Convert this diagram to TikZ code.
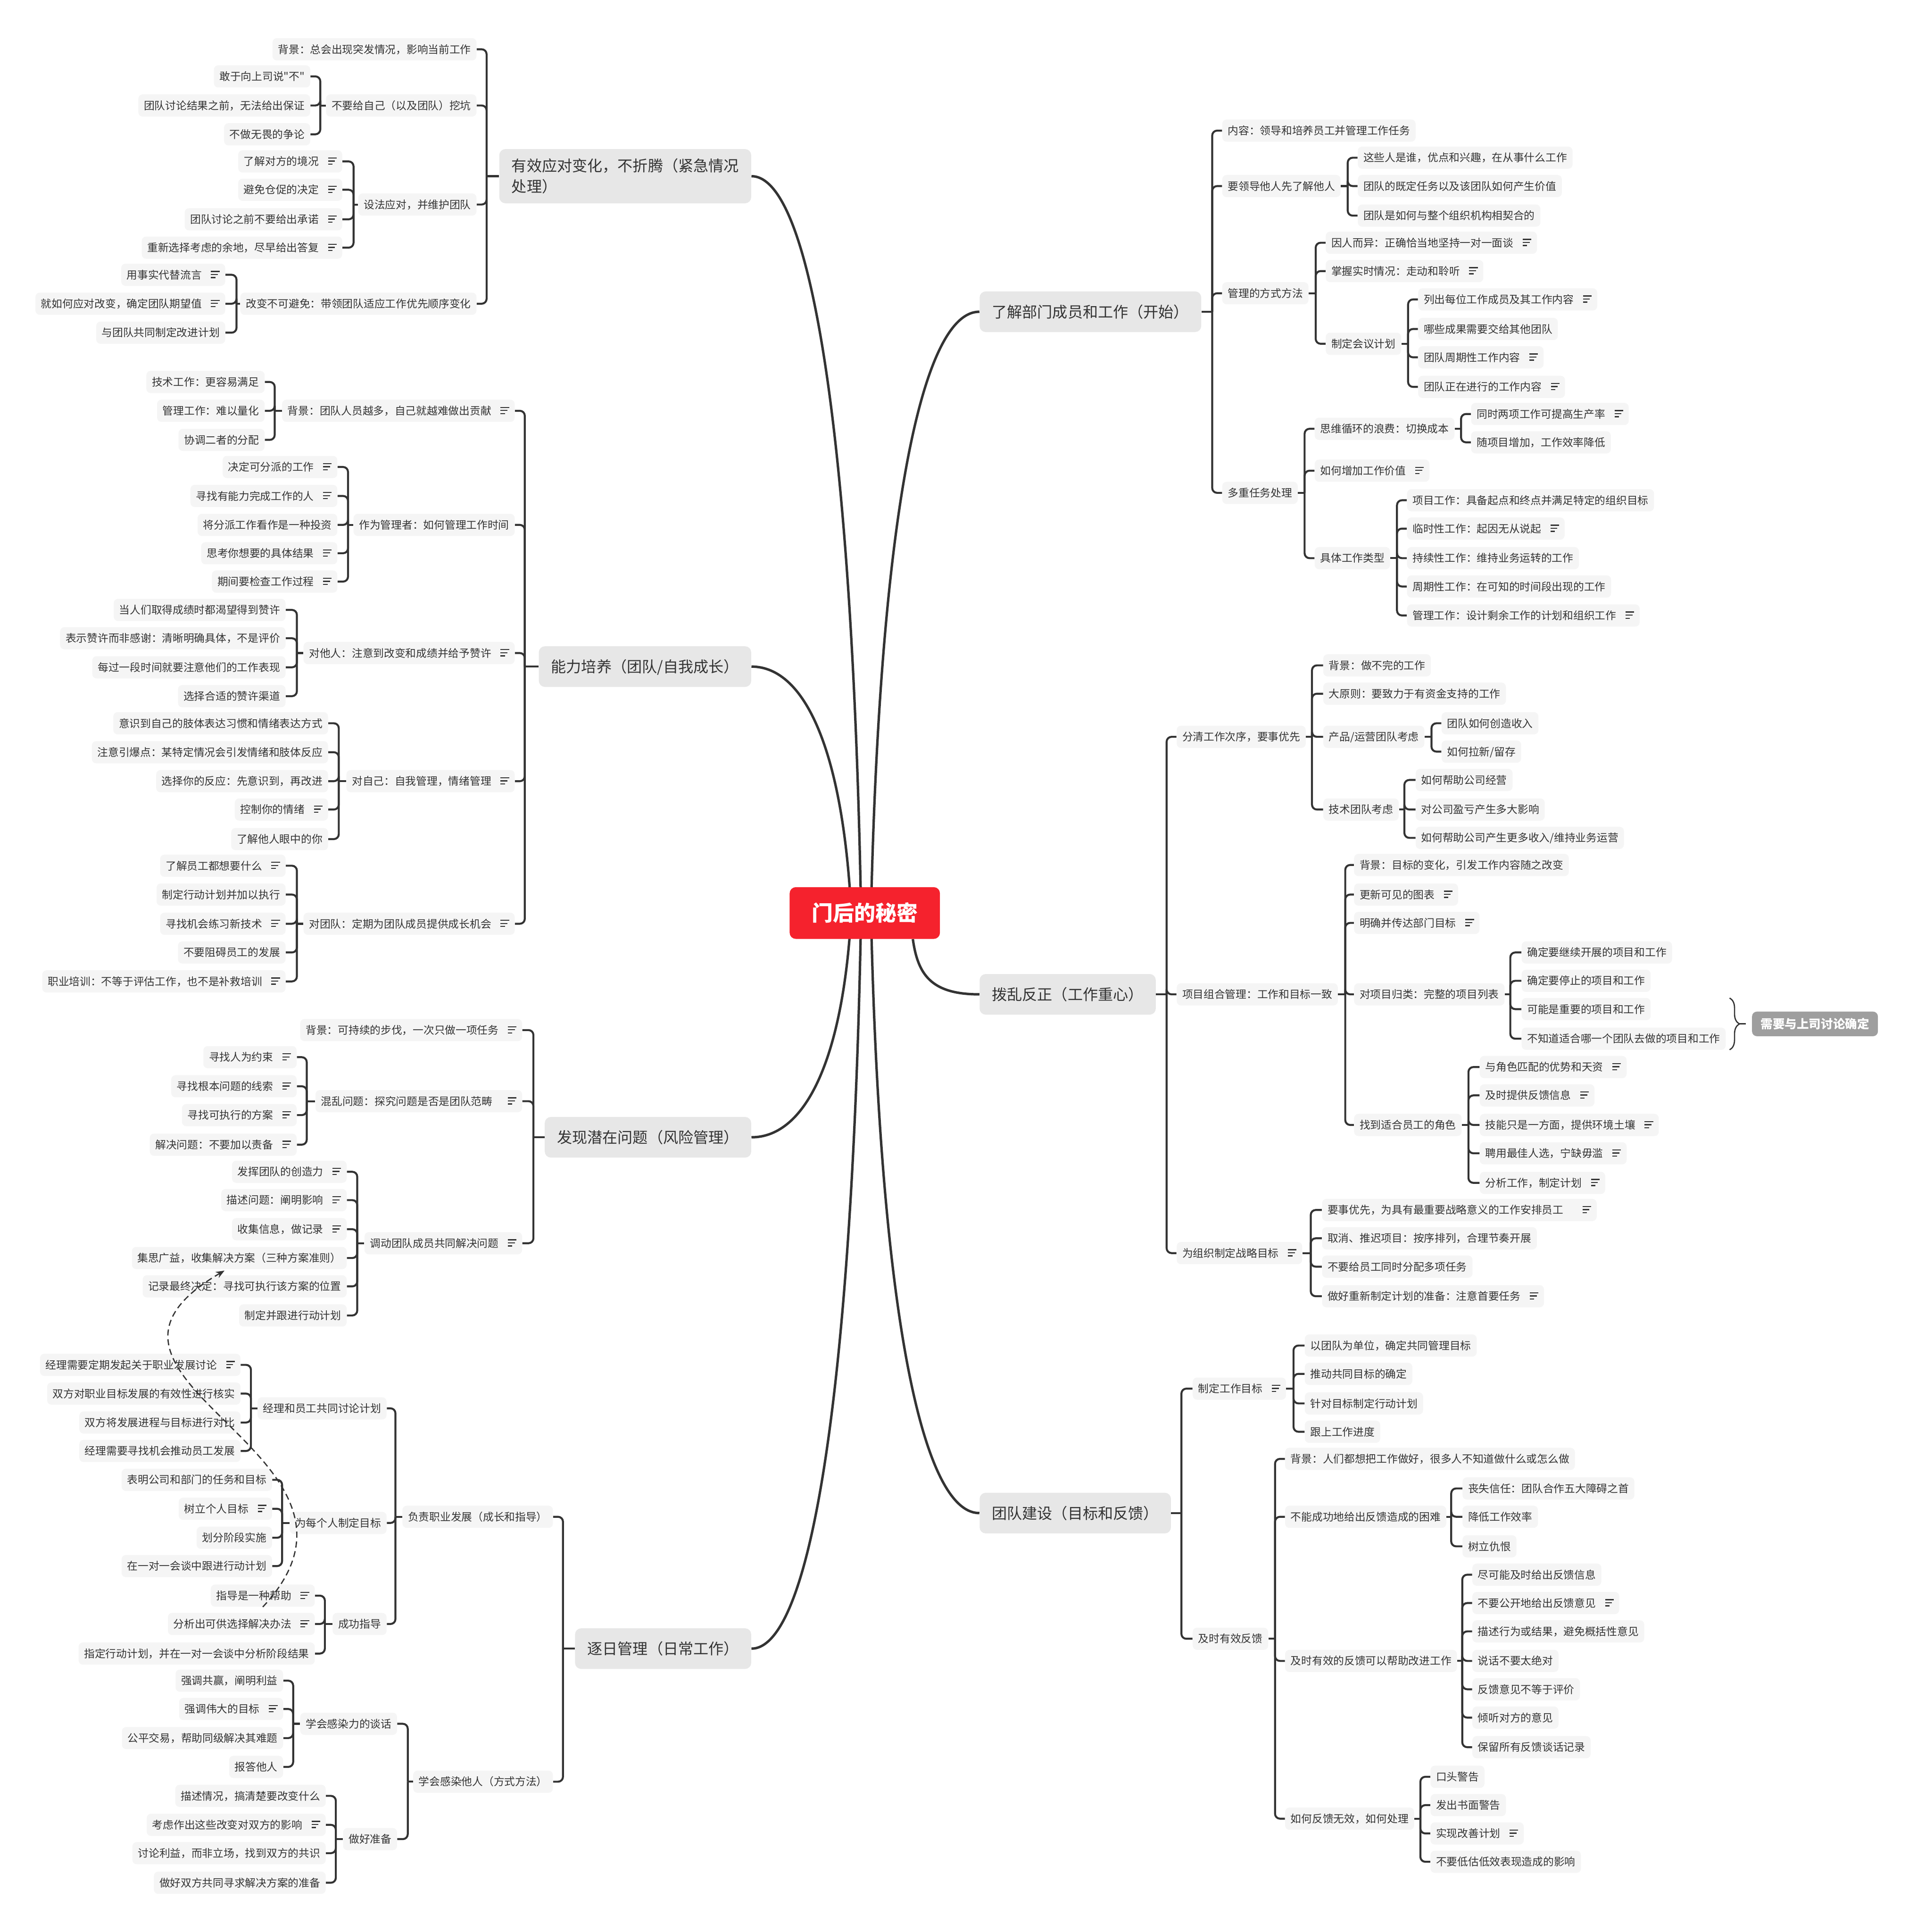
\documentclass[tikz,border=0pt]{standalone}
\usepackage{fontspec}
\newfontfamily\cjk{Noto Sans CJK SC}
\usetikzlibrary{calc,decorations.pathreplacing,arrows.meta}
\definecolor{txt}{HTML}{333333}
\definecolor{ln}{HTML}{333333}
\definecolor{leafbg}{HTML}{F5F5F5}
\definecolor{mainbg}{HTML}{E7E7E7}
\definecolor{rootbg}{HTML}{F5222D}
\definecolor{sumbg}{HTML}{9E9E9E}
\pgfdeclarelayer{bg}
\pgfsetlayers{bg,main}
\newcommand\nt{\hspace{7.5pt}\raisebox{0.6pt}{\vbox{\hrule width 7pt height 0.9pt\vskip 1.6pt\hrule width 5.6pt height 0.9pt\vskip 1.6pt\hrule width 3.6pt height 0.9pt}}}
% right-side bracket connector: parent, spine x, spine y, children
\newcommand\rb[4]{\coordinate (#1-s) at (#2,#3);
  \draw[sub] (#1.east) -- (#1-s);
  \foreach \kid in {#4}{\draw[sub] (#1-s) |- (\kid.west);}}
% left-side bracket connector
\newcommand\lb[4]{\coordinate (#1-s) at (#2,#3);
  \draw[sub] (#1.west) -- (#1-s);
  \foreach \kid in {#4}{\draw[sub] (#1-s) |- (\kid.east);}}
\begin{document}
\begin{tikzpicture}[x=1pt,y=-1pt,
  leaf/.style={fill=leafbg,rounded corners=3.5pt,inner xsep=4.5pt,inner ysep=0pt,minimum height=18pt,text height=7.6pt,text depth=1pt,font=\cjk\fontsize{8.7}{10}\selectfont,text=txt},
  rnode/.style={leaf,anchor=west},
  lnode/.style={leaf,anchor=east},
  mainbase/.style={fill=mainbg,rounded corners=5pt,inner xsep=10pt,inner ysep=0pt,font=\cjk\fontsize{12.3}{17}\selectfont,text=txt},
  mainb/.style={mainbase,minimum height=33pt,text height=10.8pt,text depth=1.4pt},
  sub/.style={draw=ln,line width=1.6pt,rounded corners=4pt},
  trunk/.style={draw=ln,line width=2pt},
  sumnode/.style={fill=sumbg,rounded corners=4pt,inner xsep=7pt,inner ysep=0pt,minimum height=20pt,text height=8.6pt,text depth=1.1pt,text=white,font=\cjk\bfseries\fontsize{9.8}{11}\selectfont}]

\begin{pgfonlayer}{bg}
\fill[white] (0,0) rectangle (1556,1568);
\end{pgfonlayer}
\useasboundingbox (0,0) rectangle (1556,1568);

% ---------- root ----------
\node[fill=rootbg,rounded corners=5pt,minimum width=122pt,minimum height=42pt,inner sep=0pt,text height=15pt,text depth=2pt,text=white,font=\cjk\bfseries\fontsize{17.2}{20}\selectfont] (root) at (702,741) {门后的秘密};

% ---------- main branches ----------
\node[mainb,anchor=west] (R1) at (795,253) {了解部门成员和工作（开始）};
\node[mainb,anchor=west] (R2) at (795,807) {拨乱反正（工作重心）};
\node[mainb,anchor=west] (R3) at (795,1228) {团队建设（目标和反馈）};
\node[mainbase,anchor=east,align=left,minimum height=44pt] (L1) at (610,143) {有效应对变化，不折腾（紧急情况\\处理）};
\node[mainb,anchor=east] (L2) at (610,541) {能力培养（团队/自我成长）};
\node[mainb,anchor=east] (L3) at (610,923) {发现潜在问题（风险管理）};
\node[mainb,anchor=east] (L4) at (610,1338) {逐日管理（日常工作）};

% ---------- R1 ----------
\node[rnode] (r1a) at (992,106) {内容：领导和培养员工并管理工作任务};
\node[rnode] (r1b) at (992,151) {要领导他人先了解他人};
\node[rnode] (r1b1) at (1102,128) {这些人是谁，优点和兴趣，在从事什么工作};
\node[rnode] (r1b2) at (1102,151) {团队的既定任务以及该团队如何产生价值};
\node[rnode] (r1b3) at (1102,175) {团队是如何与整个组织机构相契合的};
\node[rnode] (r1c) at (992,238) {管理的方式方法};
\node[rnode] (r1c1) at (1076,197) {因人而异：正确恰当地坚持一对一面谈\nt};
\node[rnode] (r1c2) at (1076,220) {掌握实时情况：走动和聆听\nt};
\node[rnode] (r1c3) at (1076,279) {制定会议计划};
\node[rnode] (r1c3a) at (1151,243) {列出每位工作成员及其工作内容\nt};
\node[rnode] (r1c3b) at (1151,267) {哪些成果需要交给其他团队};
\node[rnode] (r1c3c) at (1151,290) {团队周期性工作内容\nt};
\node[rnode] (r1c3d) at (1151,314) {团队正在进行的工作内容\nt};
\node[rnode] (r1d) at (992,400) {多重任务处理};
\node[rnode] (r1d1) at (1067,348) {思维循环的浪费：切换成本};
\node[rnode] (r1d1a) at (1194,336) {同时两项工作可提高生产率\nt};
\node[rnode] (r1d1b) at (1194,359) {随项目增加，工作效率降低};
\node[rnode] (r1d2) at (1067,382) {如何增加工作价值\nt};
\node[rnode] (r1d3) at (1067,453) {具体工作类型};
\node[rnode] (r1d3a) at (1142,406) {项目工作：具备起点和终点并满足特定的组织目标};
\node[rnode] (r1d3b) at (1142,429) {临时性工作：起因无从说起\nt};
\node[rnode] (r1d3c) at (1142,453) {持续性工作：维持业务运转的工作};
\node[rnode] (r1d3d) at (1142,476) {周期性工作：在可知的时间段出现的工作};
\node[rnode] (r1d3e) at (1142,499.5) {管理工作：设计剩余工作的计划和组织工作\nt};

% ---------- R2 ----------
\node[rnode] (r2a) at (955,598) {分清工作次序，要事优先};
\node[rnode] (r2a1) at (1074,540) {背景：做不完的工作};
\node[rnode] (r2a2) at (1074,563) {大原则：要致力于有资金支持的工作};
\node[rnode] (r2a3) at (1074,598) {产品/运营团队考虑};
\node[rnode] (r2a3a) at (1170,587) {团队如何创造收入};
\node[rnode] (r2a3b) at (1170,610) {如何拉新/留存};
\node[rnode] (r2a4) at (1074,657) {技术团队考虑};
\node[rnode] (r2a4a) at (1149,633) {如何帮助公司经营};
\node[rnode] (r2a4b) at (1149,657) {对公司盈亏产生多大影响};
\node[rnode] (r2a4c) at (1149,680) {如何帮助公司产生更多收入/维持业务运营};
\node[rnode] (r2b) at (955,807) {项目组合管理：工作和目标一致};
\node[rnode] (r2b1) at (1099,702) {背景：目标的变化，引发工作内容随之改变};
\node[rnode] (r2b2) at (1099,726) {更新可见的图表\nt};
\node[rnode] (r2b3) at (1099,749) {明确并传达部门目标\nt};
\node[rnode] (r2b4) at (1099,807) {对项目归类：完整的项目列表};
\node[rnode] (r2b4a) at (1235,773) {确定要继续开展的项目和工作};
\node[rnode] (r2b4b) at (1235,796) {确定要停止的项目和工作};
\node[rnode] (r2b4c) at (1235,819) {可能是重要的项目和工作};
\node[rnode] (r2b4d) at (1235,843) {不知道适合哪一个团队去做的项目和工作};
\node[rnode] (r2b5) at (1099,913) {找到适合员工的角色};
\node[rnode] (r2b5a) at (1201,866) {与角色匹配的优势和天资\nt};
\node[rnode] (r2b5b) at (1201,889) {及时提供反馈信息\nt};
\node[rnode] (r2b5c) at (1201,913) {技能只是一方面，提供环境土壤\nt};
\node[rnode] (r2b5d) at (1201,936) {聘用最佳人选，宁缺毋滥\nt};
\node[rnode] (r2b5e) at (1201,960) {分析工作，制定计划\nt};
\node[rnode] (r2c) at (955,1017) {为组织制定战略目标\nt};
\node[rnode] (r2c1) at (1073,982) {要事优先，为具有最重要战略意义的工作安排员工\hspace{8pt}\nt};
\node[rnode] (r2c2) at (1073,1005) {取消、推迟项目：按序排列，合理节奏开展};
\node[rnode] (r2c3) at (1073,1028) {不要给员工同时分配多项任务};
\node[rnode] (r2c4) at (1073,1052) {做好重新制定计划的准备：注意首要任务\nt};

\node[sumnode,anchor=west] (sum) at (1422,831) {需要与上司讨论确定};
\coordinate (bt) at (1404,810);
\coordinate (bb) at (1404,852);
\coordinate (btip) at (1412,831);
\draw[ln,line width=1pt,decorate,decoration={brace,amplitude=8pt}] (bt) -- (bb);
\draw[ln,line width=1pt] (btip) -- ($(sum.west)+(-5,0)$);

% ---------- R3 ----------
\node[rnode] (r3a) at (968,1127) {制定工作目标\nt};
\node[rnode] (r3a1) at (1059,1092) {以团队为单位，确定共同管理目标};
\node[rnode] (r3a2) at (1059,1115) {推动共同目标的确定};
\node[rnode] (r3a3) at (1059,1139) {针对目标制定行动计划};
\node[rnode] (r3a4) at (1059,1162) {跟上工作进度};
\node[rnode] (r3b) at (968,1330) {及时有效反馈};
\node[rnode] (r3b1) at (1043,1184) {背景：人们都想把工作做好，很多人不知道做什么或怎么做\hspace{8pt}};
\node[rnode] (r3b2) at (1043,1231) {不能成功地给出反馈造成的困难};
\node[rnode] (r3b2a) at (1187,1208) {丧失信任：团队合作五大障碍之首};
\node[rnode] (r3b2b) at (1187,1231) {降低工作效率};
\node[rnode] (r3b2c) at (1187,1255) {树立仇恨};
\node[rnode] (r3b3) at (1043,1348) {及时有效的反馈可以帮助改进工作};
\node[rnode] (r3b3a) at (1195,1278) {尽可能及时给出反馈信息};
\node[rnode] (r3b3b) at (1195,1301) {不要公开地给出反馈意见\nt};
\node[rnode] (r3b3c) at (1195,1324) {描述行为或结果，避免概括性意见};
\node[rnode] (r3b3d) at (1195,1348) {说话不要太绝对};
\node[rnode] (r3b3e) at (1195,1371) {反馈意见不等于评价};
\node[rnode] (r3b3f) at (1195,1394) {倾听对方的意见};
\node[rnode] (r3b3g) at (1195,1418) {保留所有反馈谈话记录};
\node[rnode] (r3b4) at (1043,1476) {如何反馈无效，如何处理};
\node[rnode] (r3b4a) at (1161,1442) {口头警告};
\node[rnode] (r3b4b) at (1161,1465) {发出书面警告};
\node[rnode] (r3b4c) at (1161,1488) {实现改善计划\nt};
\node[rnode] (r3b4d) at (1161,1511) {不要低估低效表现造成的影响};

% ---------- L1 ----------
\node[lnode] (l1a) at (387,40) {背景：总会出现突发情况，影响当前工作};
\node[lnode] (l1b) at (387,85.6) {不要给自己（以及团队）挖坑};
\node[lnode] (l1b1) at (252,62) {敢于向上司说"不"};
\node[lnode] (l1b2) at (252,85.6) {团队讨论结果之前，无法给出保证};
\node[lnode] (l1b3) at (252,109) {不做无畏的争论};
\node[lnode] (l1c) at (387,166) {设法应对，并维护团队};
\node[lnode] (l1c1) at (278,131) {了解对方的境况\nt};
\node[lnode] (l1c2) at (278,154) {避免仓促的决定\nt};
\node[lnode] (l1c3) at (278,178) {团队讨论之前不要给出承诺\nt};
\node[lnode] (l1c4) at (278,201) {重新选择考虑的余地，尽早给出答复\nt};
\node[lnode] (l1d) at (387,246.5) {改变不可避免：带领团队适应工作优先顺序变化};
\node[lnode] (l1d1) at (183,223) {用事实代替流言\nt};
\node[lnode] (l1d2) at (183,246.5) {就如何应对改变，确定团队期望值\nt};
\node[lnode] (l1d3) at (183,270) {与团队共同制定改进计划};

% ---------- L2 ----------
\node[lnode] (l2a) at (418,333.4) {背景：团队人员越多，自己就越难做出贡献\nt};
\node[lnode] (l2a1) at (215,310) {技术工作：更容易满足};
\node[lnode] (l2a2) at (215,333.4) {管理工作：难以量化};
\node[lnode] (l2a3) at (215,357) {协调二者的分配};
\node[lnode] (l2b) at (418,426) {作为管理者：如何管理工作时间};
\node[lnode] (l2b1) at (274,379) {决定可分派的工作\nt};
\node[lnode] (l2b2) at (274,402.5) {寻找有能力完成工作的人\nt};
\node[lnode] (l2b3) at (274,426) {将分派工作看作是一种投资};
\node[lnode] (l2b4) at (274,449) {思考你想要的具体结果\nt};
\node[lnode] (l2b5) at (274,472) {期间要检查工作过程\nt};
\node[lnode] (l2c) at (418,530) {对他人：注意到改变和成绩并给予赞许\nt};
\node[lnode] (l2c1) at (232,495) {当人们取得成绩时都渴望得到赞许};
\node[lnode] (l2c2) at (232,518) {表示赞许而非感谢：清晰明确具体，不是评价};
\node[lnode] (l2c3) at (232,541.6) {每过一段时间就要注意他们的工作表现};
\node[lnode] (l2c4) at (232,565) {选择合适的赞许渠道};
\node[lnode] (l2d) at (418,634) {对自己：自我管理，情绪管理\nt};
\node[lnode] (l2d1) at (266.5,587) {意识到自己的肢体表达习惯和情绪表达方式};
\node[lnode] (l2d2) at (266.5,610.5) {注意引爆点：某特定情况会引发情绪和肢体反应};
\node[lnode] (l2d3) at (266.5,634) {选择你的反应：先意识到，再改进};
\node[lnode] (l2d4) at (266.5,657) {控制你的情绪\nt};
\node[lnode] (l2d5) at (266.5,681) {了解他人眼中的你};
\node[lnode] (l2e) at (418,749.7) {对团队：定期为团队成员提供成长机会\nt};
\node[lnode] (l2e1) at (232,702.6) {了解员工都想要什么\nt};
\node[lnode] (l2e2) at (232,726) {制定行动计划并加以执行};
\node[lnode] (l2e3) at (232,749.7) {寻找机会练习新技术\nt};
\node[lnode] (l2e4) at (232,773) {不要阻碍员工的发展};
\node[lnode] (l2e5) at (232,796.5) {职业培训：不等于评估工作，也不是补救培训\nt};

% ---------- L3 ----------
\node[lnode] (l3a) at (424,836) {背景：可持续的步伐，一次只做一项任务\nt};
\node[lnode] (l3b) at (424,893.7) {混乱问题：探究问题是否是团队范畴\hspace{5pt}\nt};
\node[lnode] (l3b1) at (241,858) {寻找人为约束\nt};
\node[lnode] (l3b2) at (241,881.6) {寻找根本问题的线索\nt};
\node[lnode] (l3b3) at (241,905) {寻找可执行的方案\nt};
\node[lnode] (l3b4) at (241,929) {解决问题：不要加以责备\nt};
\node[lnode] (l3c) at (424,1009) {调动团队成员共同解决问题\nt};
\node[lnode] (l3c1) at (281.6,951) {发挥团队的创造力\nt};
\node[lnode] (l3c2) at (281.6,974) {描述问题：阐明影响\nt};
\node[lnode] (l3c3) at (281.6,997.6) {收集信息，做记录\nt};
\node[lnode] (l3c4) at (281.6,1021) {集思广益，收集解决方案（三种方案准则）};
\node[lnode] (l3c5) at (281.6,1044) {记录最终决定：寻找可执行该方案的位置};
\node[lnode] (l3c6) at (281.6,1067.6) {制定并跟进行动计划};

% ---------- L4 ----------
\node[lnode] (l4a) at (449,1231) {负责职业发展（成长和指导）};
\node[lnode] (l4a1) at (314,1143) {经理和员工共同讨论计划};
\node[lnode] (l4a1a) at (195.4,1107.7) {经理需要定期发起关于职业发展讨论\nt};
\node[lnode] (l4a1b) at (195.4,1131) {双方对职业目标发展的有效性进行核实};
\node[lnode] (l4a1c) at (195.4,1154.5) {双方将发展进程与目标进行对比};
\node[lnode] (l4a1d) at (195.4,1177.6) {经理需要寻找机会推动员工发展};
\node[lnode] (l4a2) at (314,1236) {为每个人制定目标};
\node[lnode] (l4a2a) at (221,1201) {表明公司和部门的任务和目标};
\node[lnode] (l4a2b) at (221,1224.5) {树立个人目标\nt};
\node[lnode] (l4a2c) at (221,1248) {划分阶段实施};
\node[lnode] (l4a2d) at (221,1271) {在一对一会谈中跟进行动计划};
\node[lnode] (l4a3) at (314,1318) {成功指导};
\node[lnode] (l4a3a) at (255.7,1295) {指导是一种帮助\nt};
\node[lnode] (l4a3b) at (255.7,1318) {分析出可供选择解决办法\nt};
\node[lnode] (l4a3c) at (255.7,1342) {指定行动计划，并在一对一会谈中分析阶段结果};
\node[lnode] (l4b) at (449,1446) {学会感染他人（方式方法）};
\node[lnode] (l4b1) at (322.5,1399) {学会感染力的谈话};
\node[lnode] (l4b1a) at (230,1364) {强调共赢，阐明利益};
\node[lnode] (l4b1b) at (230,1387) {强调伟大的目标\nt};
\node[lnode] (l4b1c) at (230,1410.6) {公平交易，帮助同级解决其难题};
\node[lnode] (l4b1d) at (230,1434) {报答他人};
\node[lnode] (l4b2) at (322.5,1492.6) {做好准备};
\node[lnode] (l4b2a) at (264.6,1457.5) {描述情况，搞清楚要改变什么};
\node[lnode] (l4b2b) at (264.6,1481) {考虑作出这些改变对双方的影响\nt};
\node[lnode] (l4b2c) at (264.6,1504) {讨论利益，而非立场，找到双方的共识};
\node[lnode] (l4b2d) at (264.6,1528) {做好双方共同寻求解决方案的准备};

% ---------- connectors (behind nodes) ----------
\begin{pgfonlayer}{bg}
\draw[trunk] ($(root.center)+(-3,0)$) .. controls +(-7,-389) and +(48,0) .. (L1.east);
\draw[trunk] ($(root.center)+(-11,0)$) .. controls +(-6.5,-130) and +(44,0) .. (L2.east);
\draw[trunk] ($(root.center)+(5,0)$) .. controls +(7,-317) and +(-47.5,0) .. (R1.west);
\draw[trunk] ($(root.center)+(-11,0)$) .. controls +(-6.5,118) and +(44,0) .. (L3.east);
\draw[trunk] ($(root.center)+(-3,0)$) .. controls +(-7,388) and +(48,0) .. (L4.east);
\draw[trunk] ($(root.center)+(5,0)$) .. controls +(7,316.6) and +(-47.5,0) .. (R3.west);
\draw[trunk] ($(root.south)+(39,0)$) .. controls +(4,28) and +(-40,0) .. (R2.west);

\rb{R1}{984}{253}{r1a,r1b,r1c,r1d}
\rb{r1b}{1094}{151}{r1b1,r1b2,r1b3}
\rb{r1c}{1068}{238}{r1c1,r1c2,r1c3}
\rb{r1c3}{1143}{279}{r1c3a,r1c3b,r1c3c,r1c3d}
\rb{r1d}{1059}{400}{r1d1,r1d2,r1d3}
\rb{r1d1}{1186}{348}{r1d1a,r1d1b}
\rb{r1d3}{1134}{453}{r1d3a,r1d3b,r1d3c,r1d3d,r1d3e}

\rb{R2}{947}{807}{r2a,r2b,r2c}
\rb{r2a}{1065}{598}{r2a1,r2a2,r2a3,r2a4}
\rb{r2a3}{1162}{598}{r2a3a,r2a3b}
\rb{r2a4}{1140}{657}{r2a4a,r2a4b,r2a4c}
\rb{r2b}{1092}{807}{r2b1,r2b2,r2b3,r2b4,r2b5}
\rb{r2b4}{1226}{807}{r2b4a,r2b4b,r2b4c,r2b4d}
\rb{r2b5}{1192}{913}{r2b5a,r2b5b,r2b5c,r2b5d,r2b5e}
\rb{r2c}{1064}{1017}{r2c1,r2c2,r2c3,r2c4}

\rb{R3}{959}{1228}{r3a,r3b}
\rb{r3a}{1050}{1127}{r3a1,r3a2,r3a3,r3a4}
\rb{r3b}{1035}{1330}{r3b1,r3b2,r3b3,r3b4}
\rb{r3b2}{1178}{1231}{r3b2a,r3b2b,r3b2c}
\rb{r3b3}{1187}{1348}{r3b3a,r3b3b,r3b3c,r3b3d,r3b3e,r3b3f,r3b3g}
\rb{r3b4}{1153}{1476}{r3b4a,r3b4b,r3b4c,r3b4d}

\lb{L1}{395}{143}{l1a,l1b,l1c,l1d}
\lb{l1b}{260}{85.6}{l1b1,l1b2,l1b3}
\lb{l1c}{287}{166}{l1c1,l1c2,l1c3,l1c4}
\lb{l1d}{192}{246.5}{l1d1,l1d2,l1d3}

\lb{L2}{426}{541}{l2a,l2b,l2c,l2d,l2e}
\lb{l2a}{223}{333.4}{l2a1,l2a2,l2a3}
\lb{l2b}{282.5}{426}{l2b1,l2b2,l2b3,l2b4,l2b5}
\lb{l2c}{241}{530}{l2c1,l2c2,l2c3,l2c4}
\lb{l2d}{275}{634}{l2d1,l2d2,l2d3,l2d4,l2d5}
\lb{l2e}{241}{749.7}{l2e1,l2e2,l2e3,l2e4,l2e5}

\lb{L3}{433}{923}{l3a,l3b,l3c}
\lb{l3b}{249}{893.7}{l3b1,l3b2,l3b3,l3b4}
\lb{l3c}{290}{1009}{l3c1,l3c2,l3c3,l3c4,l3c5,l3c6}

\lb{L4}{457}{1338}{l4a,l4b}
\lb{l4a}{321}{1231}{l4a1,l4a2,l4a3}
\lb{l4a1}{203.7}{1143}{l4a1a,l4a1b,l4a1c,l4a1d}
\lb{l4a2}{229}{1236}{l4a2a,l4a2b,l4a2c,l4a2d}
\lb{l4a3}{263.7}{1318}{l4a3a,l4a3b,l4a3c}
\lb{l4b}{331}{1446}{l4b1,l4b2}
\lb{l4b1}{238}{1399}{l4b1a,l4b1b,l4b1c,l4b1d}
\lb{l4b2}{272.6}{1492.6}{l4b2a,l4b2b,l4b2c,l4b2d}
\end{pgfonlayer}

% ---------- dashed relationship ----------
\draw[ln,line width=1pt,dash pattern=on 5pt off 3pt,-{Stealth[length=7pt,width=5.5pt]}] (l4a3a.south) .. controls (330,1180) and (30,1120) .. ($(l3c4.south)+(-12,1)$);
\end{tikzpicture}
\end{document}
